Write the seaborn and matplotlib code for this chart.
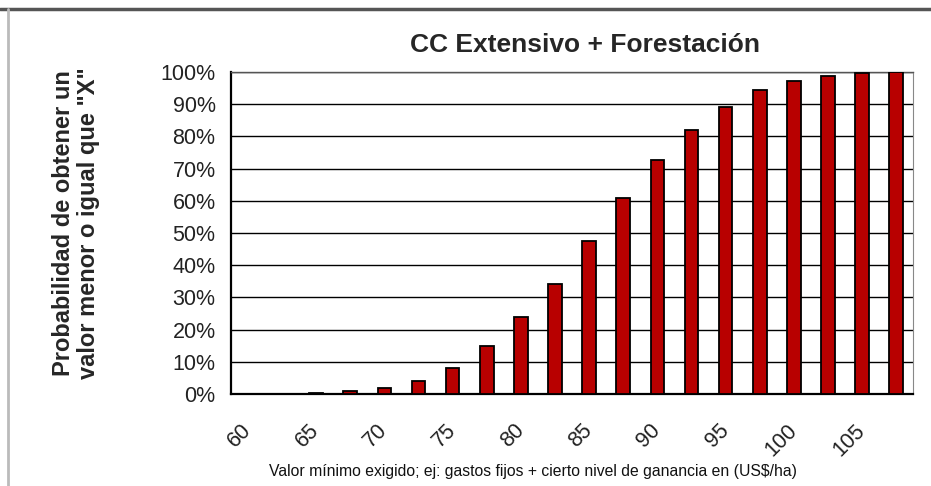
import matplotlib
matplotlib.use("Agg")
import matplotlib.pyplot as plt
import seaborn as sns
import pandas as pd

# valor minimo exigido (US$/ha) y probabilidad acumulada
valores = [60, 62.5, 65, 67.5, 70, 72.5, 75, 77.5, 80, 82.5,
           85, 87.5, 90, 92.5, 95, 97.5, 100, 102.5, 105, 107.5]
probabilidad = [0.0, 0.0, 0.3, 0.9, 1.8, 4.0, 8.0, 14.8, 23.9, 34.2,
                47.5, 60.8, 72.8, 82.0, 89.2, 94.4, 97.3, 98.8, 99.7, 100.0]
etiquetas_x = ["60", "65", "70", "75", "80", "85", "90", "95", "100", "105"]
etiquetas_y = ["0%", "10%", "20%", "30%", "40%", "50%", "60%", "70%", "80%", "90%", "100%"]

titulo = "CC Extensivo + Forestación"
ylabel = 'Probabilidad de obtener un\nvalor menor o igual que "X"'
xlabel = "Valor mínimo exigido; ej: gastos fijos + cierto nivel de ganancia en (US$/ha)"

sns.set_style("white")
plt.rcParams["font.family"] = ["Liberation Sans", "DejaVu Sans"]

df = pd.DataFrame({"valor": [str(v) for v in valores], "prob": probabilidad})

fig = plt.figure(figsize=(9.31, 4.86), dpi=100)
ax = fig.add_axes([0.248, 0.189, 0.733, 0.663])

sns.barplot(data=df, x="valor", y="prob", color="#B80000", width=0.4,
            edgecolor="black", linewidth=1.3, saturation=1, ax=ax, zorder=3)

ax.set_xlim(-0.5, len(valores) - 0.5)
ax.set_ylim(0, 100)

# etiquetas en categorias pares, marcas en los limites de categoria
ax.set_xticks(range(0, len(valores), 2))
ax.set_xticklabels(etiquetas_x, rotation=45, ha="right", va="center", fontsize=15.5,
                   color="#222222", rotation_mode="anchor")
ax.tick_params(axis="x", which="major", length=0, pad=24)
ax.set_xticks([i - 0.5 for i in range(len(valores) + 1)], minor=True)
ax.tick_params(axis="x", which="minor", length=7, width=1.2, color="black", direction="out")

ax.set_yticks(range(0, 101, 10))
ax.set_yticklabels(etiquetas_y, fontsize=15.5, color="#222222")
ax.tick_params(axis="y", length=7, width=1.2, color="black", direction="out", pad=4)

ax.yaxis.grid(True, color="black", linewidth=1.0, zorder=0)
ax.set_axisbelow(True)

for s in ["left", "bottom"]:
    ax.spines[s].set_color("black")
    ax.spines[s].set_linewidth(1.6)
ax.spines["top"].set_color("#555555")
ax.spines["top"].set_linewidth(1.0)
ax.spines["right"].set_color("#888888")
ax.spines["right"].set_linewidth(0.8)

ax.set_xlabel("")
ax.set_ylabel("")
fig.text(0.628, 0.907, titulo, ha="center", va="center", fontsize=19, fontweight="bold")
fig.text(0.082, 0.54, ylabel, ha="center", va="center", rotation=90,
         fontsize=17, fontweight="bold", linespacing=1.1)
fig.text(0.572, 0.03, xlabel, ha="center", va="center", fontsize=11.3, color="#111111")

# borde del recuadro
fig.add_artist(plt.Line2D([0, 1], [0.981, 0.981], color="#555555", linewidth=2.5))
fig.add_artist(plt.Line2D([0.009, 0.009], [0, 0.981], color="#bbbbbb", linewidth=2))

fig.savefig("out.png", dpi=100)
